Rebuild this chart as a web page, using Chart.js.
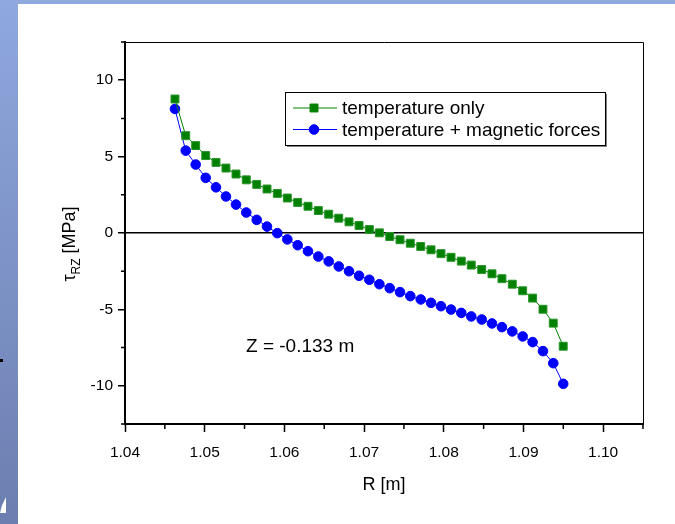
<!DOCTYPE html>
<html>
<head>
<meta charset="utf-8">
<script src="https://cdn.jsdelivr.net/npm/chart.js@4.4.1/dist/chart.umd.min.js"></script>
<style>
  html, body { margin: 0; padding: 0; }
  body { width: 675px; height: 524px; position: relative; overflow: hidden; background: #8fa8dd; }
  #side { position: absolute; left: 0; top: 0; width: 18px; height: 524px; background: linear-gradient(#8fa8de, #6c7eb0); }
  #dot { position: absolute; left: 0; top: 359px; width: 3px; height: 3px; background: #000; }
  #notch { position: absolute; left: 0; top: 497px; width: 6px; height: 16px; background: #fff; clip-path: polygon(100% 0, 100% 100%, 0 100%, 30% 55%); }
  #panel { position: absolute; left: 18px; top: 4px; width: 657px; height: 520px; background: #fff; }
</style>
</head>
<body>
<div id="side"></div>
<div id="dot"></div>
<div id="notch"></div>
<div id="panel"><canvas id="chart" width="657" height="520"></canvas></div>
<script>
// R positions [m] shared by both series
const radius = [
  1.04627, 1.04762, 1.04887, 1.05013, 1.05142, 1.05267, 1.05393, 1.05522, 1.05653, 1.05782,
  1.05911, 1.06037, 1.06167, 1.06296, 1.06426, 1.06556, 1.06682, 1.06811, 1.06937, 1.07066,
  1.07192, 1.07322, 1.07451, 1.07580, 1.07711, 1.07840, 1.07965, 1.08091, 1.08220, 1.08345,
  1.08476, 1.08605, 1.08730, 1.08860, 1.08990, 1.09115, 1.09245, 1.09374, 1.09499
];

// shear stress tau_RZ [MPa]
const tempOnly = [
  8.77, 6.37, 5.72, 5.07, 4.62, 4.25, 3.86, 3.48, 3.18, 2.88,
  2.59, 2.29, 2.00, 1.75, 1.47, 1.23, 0.97, 0.73, 0.49, 0.23,
  0.01, -0.23, -0.44, -0.67, -0.88, -1.10, -1.35, -1.59, -1.84, -2.10,
  -2.39, -2.67, -2.99, -3.35, -3.78, -4.26, -4.99, -5.90, -7.41
];
const tempMagnetic = [
  8.12, 5.39, 4.48, 3.61, 2.99, 2.39, 1.86, 1.34, 0.86, 0.42,
  -0.01, -0.42, -0.80, -1.19, -1.54, -1.86, -2.19, -2.50, -2.80, -3.06,
  -3.35, -3.61, -3.87, -4.13, -4.35, -4.57, -4.79, -5.01, -5.23, -5.46,
  -5.66, -5.92, -6.16, -6.44, -6.77, -7.14, -7.73, -8.52, -9.87
];

const seriesLabels = ['temperature only', 'temperature + magnetic forces'];

const xTicks = [1.04, 1.05, 1.06, 1.07, 1.08, 1.09, 1.10];
const xMinorTicks = [1.045, 1.055, 1.065, 1.075, 1.085, 1.095, 1.105];
const yTicks = [-10, -5, 0, 5, 10];
const yMinorTicks = [-12.5, -7.5, -2.5, 2.5, 7.5, 12.5];

const annotationText = 'Z = -0.133 m';

Chart.defaults.font.family = '"Liberation Sans", Arial, sans-serif';
Chart.defaults.color = '#000';

// top/right frame lines and the short minor ticks
const frameTicks = {
  id: 'frameTicks',
  afterDraw(chart) {
    const {ctx, chartArea: a, scales: {x, y}} = chart;
    ctx.save();
    ctx.strokeStyle = '#000';
    ctx.lineWidth = 1;
    ctx.beginPath();
    ctx.moveTo(a.left, a.top + 0.5);
    ctx.lineTo(a.right + 0.5, a.top + 0.5);
    ctx.lineTo(a.right + 0.5, a.bottom);
    ctx.stroke();
    ctx.lineWidth = 1.5;
    ctx.beginPath();
    xMinorTicks.forEach(v => {
      const px = x.getPixelForValue(v);
      ctx.moveTo(px, a.bottom);
      ctx.lineTo(px, a.bottom + 5);
    });
    yMinorTicks.forEach(v => {
      const py = y.getPixelForValue(v);
      ctx.moveTo(a.left, py);
      ctx.lineTo(a.left - 4, py);
    });
    ctx.stroke();
    ctx.restore();
  }
};

// rotated y title with subscript
const yTitle = {
  id: 'yTitle',
  afterDraw(chart) {
    const {ctx, chartArea: a} = chart;
    const big = '18px "Liberation Sans", Arial, sans-serif';
    const small = '12px "Liberation Sans", Arial, sans-serif';
    ctx.save();
    ctx.font = big;
    const w1 = ctx.measureText('τ').width;
    const w3 = ctx.measureText(' [MPa]').width;
    ctx.font = small;
    const w2 = ctx.measureText('RZ').width;
    ctx.translate(57, (a.top + a.bottom) / 2 + 11);
    ctx.rotate(-Math.PI / 2);
    ctx.fillStyle = '#000';
    ctx.textBaseline = 'alphabetic';
    let pos = -(w1 + w2 + w3) / 2;
    ctx.font = big;
    ctx.fillText('τ', pos, 0);
    pos += w1;
    ctx.font = small;
    ctx.fillText('RZ', pos, 5);
    pos += w2;
    ctx.font = big;
    ctx.fillText(' [MPa]', pos, 0);
    ctx.restore();
  }
};

// boxed legend inside the plot plus the Z label
const boxLegend = {
  id: 'boxLegend',
  afterDraw(chart) {
    const {ctx, chartArea: a} = chart;
    const bx = a.left + 160, by = a.top + 50, bw = 320, bh = 53;
    ctx.save();
    ctx.fillStyle = '#808080';
    ctx.fillRect(bx + 2, by + 2, bw, bh);
    ctx.fillStyle = '#fff';
    ctx.fillRect(bx, by, bw, bh);
    ctx.strokeStyle = '#000';
    ctx.lineWidth = 1;
    ctx.strokeRect(bx + 0.5, by + 0.5, bw, bh);

    ctx.font = '19px "Liberation Sans", Arial, sans-serif';
    ctx.textBaseline = 'middle';
    ctx.textAlign = 'left';
    chart.data.datasets.forEach((ds, i) => {
      const ry = by + 16 + i * 21.5;
      ctx.strokeStyle = ds.borderColor;
      ctx.lineWidth = 1;
      ctx.beginPath();
      ctx.moveTo(bx + 8, ry);
      ctx.lineTo(bx + 52, ry);
      ctx.stroke();
      ctx.fillStyle = ds.backgroundColor;
      Chart.helpers.drawPoint(ctx, {
        pointStyle: ds.pointStyle, radius: ds.pointRadius, borderWidth: ds.pointBorderWidth, rotation: 0
      }, bx + 29, ry);
      ctx.fillStyle = '#000';
      ctx.fillText(ds.label, bx + 57, ry + 1);
    });

    ctx.fillText(annotationText, a.left + 121, a.top + 305);
    ctx.restore();
  }
};

const tickFont = {size: 15.5};

new Chart(document.getElementById('chart'), {
  type: 'line',
  data: {
    datasets: [
      {
        label: seriesLabels[0],
        data: radius.map((r, i) => ({x: r, y: tempOnly[i]})),
        borderColor: '#008000',
        backgroundColor: '#008000',
        borderWidth: 1,
        pointStyle: 'rect',
        pointRadius: 5.6,
        pointBorderWidth: 1,
        pointBorderColor: '#2a942a'
      },
      {
        label: seriesLabels[1],
        data: radius.map((r, i) => ({x: r, y: tempMagnetic[i]})),
        borderColor: '#0000ff',
        backgroundColor: '#0000ff',
        borderWidth: 1,
        pointStyle: 'circle',
        pointRadius: 4.8,
        pointBorderWidth: 1,
        pointBorderColor: '#0000ff'
      }
    ]
  },
  options: {
    responsive: false,
    animation: false,
    layout: {padding: {top: 38, right: 32, left: 0, bottom: 0}},
    plugins: {legend: {display: false}, tooltip: {enabled: false}},
    scales: {
      x: {
        type: 'linear',
        min: 1.04,
        max: 1.105,
        afterBuildTicks: s => { s.ticks = xTicks.map(v => ({value: v})); },
        afterFit: s => { s.height = 100; },
        ticks: {font: tickFont, padding: 11, autoSkip: false, maxRotation: 0, callback: v => v.toFixed(2)},
        grid: {drawOnChartArea: false, tickLength: 8, tickColor: '#000', tickWidth: 1.5},
        border: {color: '#000', width: 2},
        title: {display: true, text: 'R [m]', font: {size: 18}, padding: {top: 10, bottom: 28}}
      },
      y: {
        type: 'linear',
        min: -12.5,
        max: 12.5,
        afterBuildTicks: s => { s.ticks = yTicks.map(v => ({value: v})); },
        afterFit: s => { s.width = 107; },
        ticks: {font: tickFont, padding: 5, autoSkip: false},
        grid: {
          color: c => (c.tick && c.tick.value === 0 ? '#000' : 'rgba(0,0,0,0)'),
          lineWidth: 1.5,
          tickLength: 7,
          tickColor: '#000',
          tickWidth: 1.5
        },
        border: {color: '#000', width: 2}
      }
    }
  },
  plugins: [frameTicks, yTitle, boxLegend]
});
</script>
</body>
</html>
